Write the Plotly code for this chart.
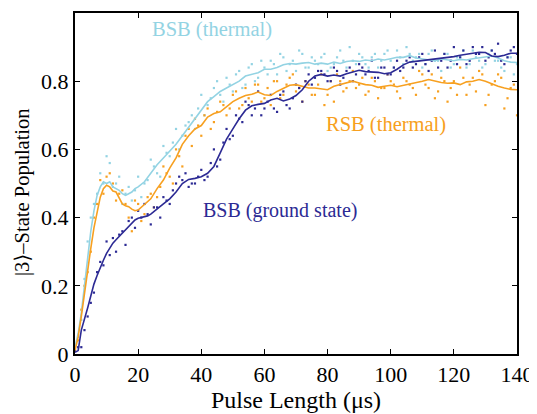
import plotly.graph_objects as go

# ---------------- data ----------------
line_x_bt = [0,1,2,3,4,5,6,7,8,9,10,11,12,13,14,15,16,17,18,19,20,22,24,26,28,30,32,34,36,38,40,42,44,46,48,50,52,54,56,58,60,62,64,66,68,70,72,74,76,78,80,82,84,86,88,90,92,94,96,98,100,102,104,106,108,110,112,114,116,118,120,122,124,126,128,130,132,134,136,138,140]
line_bsb_thermal = [0.02,0.06,0.12,0.20,0.29,0.36,0.42,0.465,0.49,0.505,0.50,0.505,0.49,0.485,0.48,0.47,0.465,0.47,0.475,0.485,0.49,0.505,0.53,0.555,0.575,0.595,0.615,0.64,0.665,0.69,0.715,0.74,0.755,0.77,0.78,0.79,0.80,0.815,0.82,0.825,0.835,0.835,0.84,0.848,0.852,0.85,0.853,0.855,0.85,0.853,0.85,0.856,0.852,0.858,0.86,0.858,0.862,0.86,0.865,0.862,0.866,0.87,0.87,0.875,0.868,0.865,0.862,0.86,0.865,0.862,0.86,0.864,0.862,0.866,0.868,0.872,0.874,0.868,0.86,0.856,0.855]

line_x_rt = [0,1,2,3,4,5,6,7,8,9,10,11,12,13,14,15,16,17,18,19,20,21,22,24,26,28,30,32,34,36,38,40,42,44,46,48,50,52,54,56,58,60,62,64,66,68,70,72,74,76,78,80,82,84,86,88,90,92,94,96,98,100,102,104,106,108,110,112,114,116,118,120,122,124,126,128,130,132,134,136,138,140]
line_rsb_thermal = [0.01,0.05,0.11,0.18,0.245,0.31,0.37,0.42,0.46,0.485,0.495,0.49,0.478,0.475,0.455,0.44,0.435,0.432,0.425,0.42,0.422,0.43,0.437,0.455,0.485,0.51,0.545,0.575,0.615,0.64,0.66,0.67,0.695,0.705,0.71,0.725,0.74,0.75,0.758,0.762,0.768,0.76,0.758,0.77,0.78,0.788,0.79,0.785,0.78,0.78,0.778,0.775,0.785,0.79,0.795,0.80,0.795,0.79,0.788,0.782,0.785,0.788,0.784,0.788,0.79,0.795,0.80,0.805,0.80,0.796,0.794,0.795,0.79,0.798,0.80,0.805,0.80,0.792,0.785,0.78,0.776,0.775]

line_x_bg = [0,1,2,3,4,5,6,7,8,9,10,11,12,13,14,15,16,17,18,19,20,21,22,23,24,25,26,28,30,32,34,36,38,40,42,44,46,48,50,52,54,56,58,60,62,64,66,68,70,72,74,76,78,80,82,84,86,88,90,92,94,96,98,100,102,104,106,108,110,112,114,116,118,120,122,124,126,128,130,132,134,136,138,140]
line_bsb_ground = [0.005,0.01,0.07,0.10,0.135,0.17,0.205,0.23,0.255,0.275,0.295,0.31,0.325,0.335,0.345,0.355,0.362,0.372,0.385,0.393,0.398,0.40,0.402,0.405,0.41,0.418,0.425,0.44,0.455,0.475,0.50,0.512,0.515,0.52,0.53,0.55,0.59,0.63,0.66,0.69,0.715,0.728,0.732,0.735,0.745,0.75,0.742,0.748,0.758,0.775,0.80,0.815,0.82,0.815,0.818,0.815,0.822,0.826,0.832,0.828,0.828,0.826,0.822,0.825,0.835,0.848,0.856,0.858,0.86,0.862,0.864,0.866,0.868,0.872,0.876,0.88,0.882,0.885,0.884,0.874,0.872,0.876,0.882,0.882]

dots_x_even = list(range(0, 141, 2))
dots_x_odd = list(range(1, 140, 2))
dots_bsb_thermal_even = [0.02,0.10,0.33,0.44,0.53,0.58,0.49,0.52,0.47,0.45,0.52,0.50,0.57,0.53,0.61,0.58,0.66,0.64,0.68,0.66,0.76,0.73,0.78,0.76,0.81,0.77,0.83,0.79,0.85,0.81,0.84,0.86,0.82,0.87,0.85,0.83,0.88,0.84,0.86,0.87,0.83,0.85,0.89,0.84,0.86,0.88,0.85,0.87,0.84,0.88,0.86,0.89,0.85,0.88,0.87,0.84,0.88,0.86,0.83,0.88,0.85,0.87,0.84,0.89,0.86,0.85,0.89,0.86,0.83,0.87,0.85]
dots_bsb_thermal_odd = [0.05,0.22,0.40,0.47,0.50,0.56,0.50,0.44,0.49,0.48,0.46,0.51,0.55,0.52,0.59,0.62,0.60,0.67,0.70,0.72,0.70,0.75,0.80,0.74,0.79,0.82,0.78,0.84,0.80,0.86,0.82,0.85,0.88,0.83,0.86,0.89,0.84,0.87,0.85,0.88,0.84,0.87,0.86,0.90,0.85,0.87,0.84,0.88,0.86,0.89,0.84,0.87,0.90,0.86,0.88,0.85,0.89,0.86,0.88,0.84,0.87,0.89,0.85,0.87,0.84,0.88,0.86,0.84,0.87,0.82]
dots_rsb_thermal_even = [0.01,0.13,0.24,0.40,0.51,0.52,0.50,0.47,0.44,0.36,0.44,0.41,0.47,0.46,0.55,0.52,0.60,0.55,0.66,0.69,0.64,0.72,0.68,0.74,0.70,0.76,0.72,0.78,0.74,0.79,0.75,0.73,0.80,0.76,0.81,0.77,0.74,0.79,0.76,0.82,0.76,0.74,0.80,0.78,0.83,0.79,0.76,0.81,0.75,0.78,0.80,0.77,0.81,0.79,0.76,0.82,0.78,0.75,0.81,0.74,0.80,0.84,0.76,0.81,0.83,0.73,0.79,0.82,0.72,0.78,0.70]
dots_rsb_thermal_odd = [0.04,0.20,0.30,0.44,0.47,0.53,0.45,0.48,0.40,0.45,0.39,0.46,0.43,0.49,0.53,0.50,0.58,0.64,0.61,0.67,0.70,0.66,0.71,0.73,0.72,0.77,0.73,0.75,0.79,0.74,0.78,0.80,0.75,0.79,0.82,0.78,0.80,0.76,0.79,0.73,0.80,0.82,0.77,0.80,0.78,0.81,0.77,0.80,0.78,0.82,0.79,0.75,0.80,0.78,0.83,0.79,0.82,0.77,0.80,0.78,0.76,0.81,0.79,0.77,0.82,0.76,0.80,0.81,0.75,0.79]
dots_bsb_ground_even = [0.01,0.02,0.11,0.18,0.27,0.33,0.34,0.35,0.32,0.40,0.42,0.44,0.38,0.43,0.46,0.44,0.50,0.51,0.49,0.50,0.54,0.52,0.60,0.57,0.66,0.64,0.69,0.74,0.70,0.77,0.72,0.76,0.71,0.77,0.72,0.79,0.74,0.82,0.81,0.83,0.80,0.84,0.79,0.83,0.80,0.85,0.82,0.86,0.81,0.84,0.82,0.86,0.84,0.87,0.85,0.88,0.83,0.89,0.86,0.84,0.90,0.87,0.85,0.90,0.88,0.86,0.89,0.91,0.85,0.89,0.88]
dots_bsb_ground_odd = [0.02,0.07,0.15,0.24,0.26,0.29,0.30,0.36,0.39,0.37,0.40,0.41,0.43,0.40,0.45,0.48,0.52,0.53,0.50,0.52,0.51,0.56,0.55,0.62,0.63,0.70,0.68,0.73,0.72,0.70,0.74,0.72,0.76,0.73,0.75,0.78,0.80,0.79,0.83,0.82,0.80,0.83,0.81,0.84,0.82,0.84,0.83,0.81,0.84,0.82,0.84,0.83,0.86,0.84,0.87,0.85,0.86,0.84,0.88,0.86,0.85,0.89,0.86,0.88,0.90,0.87,0.88,0.86,0.87,0.90]

x_ticks = [0, 20, 40, 60, 80, 100, 120, 140]
y_ticks = [0, 0.2, 0.4, 0.6, 0.8, 1]
y_tick_labels = ["0", "0.2", "0.4", "0.6", "0.8", "1"]

C_BT = "#93d3e3"
C_RT = "#f7a020"
C_BG = "#2c2a94"
FONT = "Times New Roman, Liberation Serif, DejaVu Serif, serif"

fig = go.Figure()
for ys_e, ys_o, c in [(dots_bsb_thermal_even, dots_bsb_thermal_odd, C_BT),
                      (dots_rsb_thermal_even, dots_rsb_thermal_odd, C_RT),
                      (dots_bsb_ground_even, dots_bsb_ground_odd, C_BG)]:
    for xs, ys in [(dots_x_even, ys_e), (dots_x_odd, ys_o)]:
        fig.add_trace(go.Scatter(x=xs, y=ys, mode="markers",
                                 marker=dict(symbol="square", size=2.2, color=c, line=dict(width=0)),
                                 showlegend=False, hoverinfo="skip", cliponaxis=False))
for xs, ys, c in [(line_x_bt, line_bsb_thermal, C_BT), (line_x_rt, line_rsb_thermal, C_RT), (line_x_bg, line_bsb_ground, C_BG)]:
    fig.add_trace(go.Scatter(x=xs, y=ys, mode="lines", line=dict(color=c, width=1.6),
                             showlegend=False, hoverinfo="skip"))

fig.add_annotation(x=43.5, y=0.953, text="BSB (thermal)", showarrow=False,
                   font=dict(family=FONT, size=20.5, color=C_BT))
fig.add_annotation(x=98.5, y=0.672, text="RSB (thermal)", showarrow=False,
                   font=dict(family=FONT, size=20.5, color=C_RT))
fig.add_annotation(x=65, y=0.42, text="BSB (ground state)", showarrow=False,
                   font=dict(family=FONT, size=20, color=C_BG))
# y-axis title placed as a rotated annotation to match its off-centre position
fig.add_annotation(xref="paper", yref="y", x=-0.12, y=0.475, xanchor="center", yanchor="middle",
                   text="|3⟩–State Population", textangle=-90, showarrow=False,
                   font=dict(family=FONT, size=20.5, color="black"))

axis_common = dict(showline=True, linecolor="black", linewidth=2, mirror="ticks",
                   ticks="inside", ticklen=5, tickwidth=1.2, tickcolor="black",
                   showgrid=False, zeroline=False, automargin=False,
                   tickfont=dict(family=FONT, size=22, color="black"))

fig.update_xaxes(range=[0, 140], tickvals=x_ticks, **axis_common,
                 title=dict(text="Pulse Length (μs)", standoff=0,
                            font=dict(family=FONT, size=24, color="black")))
fig.update_yaxes(range=[0, 1], tickvals=y_ticks, ticktext=y_tick_labels, **axis_common)

fig.update_layout(width=537, height=414, margin=dict(l=67, r=28, t=5, b=68),
                  plot_bgcolor="white", paper_bgcolor="white",
                  font=dict(family=FONT))

fig.write_html("out.html")
